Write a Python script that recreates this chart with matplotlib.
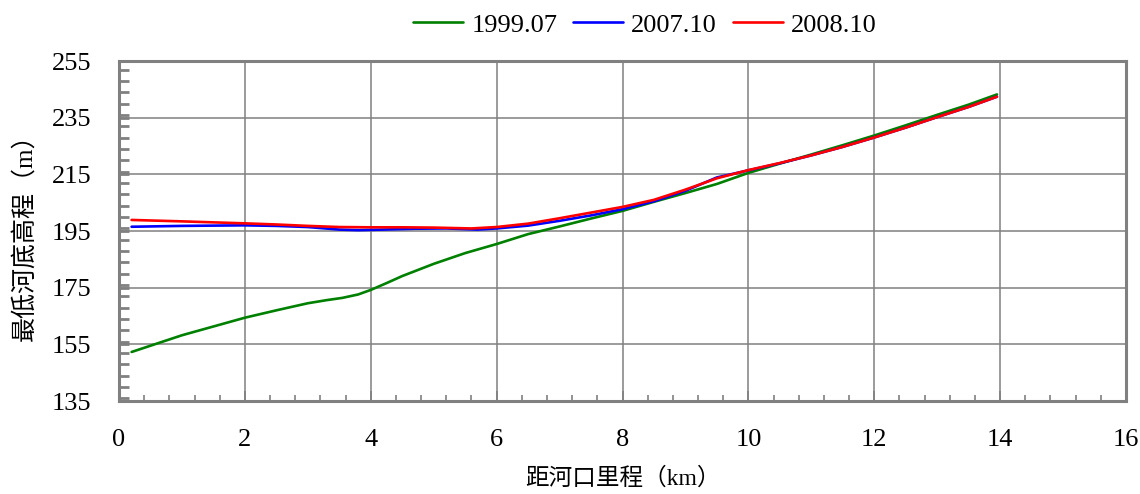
import matplotlib
matplotlib.use("Agg")
import matplotlib.pyplot as plt
from matplotlib.ticker import MultipleLocator

# Distance from river mouth (km) and lowest riverbed elevation (m)
dist_1999 = [0.2, 1.0, 2.0, 2.5, 3.0, 3.3, 3.55, 3.8, 4.0, 4.25, 4.5, 5.0, 5.5, 6.0, 6.5, 7.0,
             7.5, 8.0, 8.5, 9.0, 9.5, 10.0, 10.5, 11.0, 11.5, 12.0, 12.5, 13.0, 13.5, 13.95]
elev_1999 = [152.3, 158.2, 164.4, 167.0, 169.5, 170.6, 171.4, 172.6, 174.2, 176.6, 179.1,
             183.4, 187.2, 190.4, 193.9, 196.6, 199.4, 202.1, 205.3, 208.4, 211.6, 215.5,
             218.8, 222.0, 225.3, 228.7, 232.3, 236.0, 239.6, 243.2]

dist_2007 = [0.2, 1.0, 2.0, 2.5, 3.0, 3.5, 3.8, 4.2, 4.7, 5.2, 5.7, 6.0, 6.5, 7.0,
             7.5, 8.0, 8.5, 9.0, 9.5, 10.0, 10.5, 11.0, 11.5, 12.0, 12.5, 13.0, 13.5, 13.95]
elev_2007 = [196.5, 196.8, 197.0, 196.8, 196.4, 195.5, 195.3, 195.5, 195.8, 195.9, 195.5,
             195.9, 196.9, 198.6, 200.5, 202.7, 205.5, 209.2, 213.9, 216.4, 218.9, 221.7,
             224.7, 228.0, 231.5, 235.2, 238.8, 242.4]

dist_2008 = [0.2, 1.0, 2.0, 2.5, 3.0, 3.5, 4.0, 4.5, 5.0, 5.6, 6.0, 6.5, 7.0,
             7.5, 8.0, 8.5, 9.0, 9.5, 10.0, 10.5, 11.0, 11.5, 12.0, 12.5, 13.0, 13.5, 13.95]
elev_2008 = [198.9, 198.4, 197.7, 197.3, 196.8, 196.4, 196.3, 196.3, 196.2, 195.9, 196.4,
             197.6, 199.5, 201.5, 203.5, 206.0, 209.6, 213.6, 216.5, 219.0, 221.7, 224.7,
             228.0, 231.5, 235.2, 238.8, 242.4]

series_labels = ["1999.07", "2007.10", "2008.10"]
series_colors = ["#008000", "#0000FF", "#FF0000"]

x_ticks = [0, 2, 4, 6, 8, 10, 12, 14, 16]
y_ticks = [135, 155, 175, 195, 215, 235, 255]

serif = ["Liberation Serif", "Noto Sans CJK SC"]
plt.rcParams["font.family"] = serif

fig = plt.figure(figsize=(11.4, 4.94), dpi=100)
ax = fig.add_axes([119 / 1140, 1 - 401 / 494, (1126 - 119) / 1140, (401 - 61) / 494])

for xs, ys, lab, col in zip([dist_1999, dist_2007, dist_2008],
                            [elev_1999, elev_2007, elev_2008],
                            series_labels, series_colors):
    ax.plot(xs, ys, color=col, lw=1.9, label=lab, solid_joinstyle="round",
            solid_capstyle="round", zorder=3)

ax.set_xlim(0, 16)
ax.set_ylim(135, 255)
ax.set_xticks(x_ticks)
ax.set_yticks(y_ticks)
ax.xaxis.set_minor_locator(MultipleLocator(0.4))
ax.yaxis.set_minor_locator(MultipleLocator(4))

ax.grid(True, which="major", color="#808080", lw=1.1)
ax.set_axisbelow(True)

for s in ax.spines.values():
    s.set_color("#808080")
    s.set_linewidth(2.2)

ax.tick_params(axis="both", which="both", direction="in", colors="#808080",
               labelcolor="black", labelsize=19)
ax.tick_params(axis="x", which="major", length=7, width=1.2, pad=20)
ax.tick_params(axis="x", which="minor", length=4, width=1.2)
ax.tick_params(axis="y", which="major", length=7, width=2, pad=20)
ax.tick_params(axis="y", which="minor", length=7, width=2)
ax.tick_params(top=False, right=False, which="both")

ax.set_xlabel("距河口里程（km）", fontsize=17, labelpad=12)
ax.set_ylabel("最低河底高程（m）", fontsize=18, labelpad=11)

fig.legend(loc="center", bbox_to_anchor=(645 / 1140, 1 - 25 / 494), ncol=3,
           frameon=False, fontsize=19, handlelength=1.9, handletextpad=0.3,
           columnspacing=0.6)

fig.savefig("out.png", dpi=100)
